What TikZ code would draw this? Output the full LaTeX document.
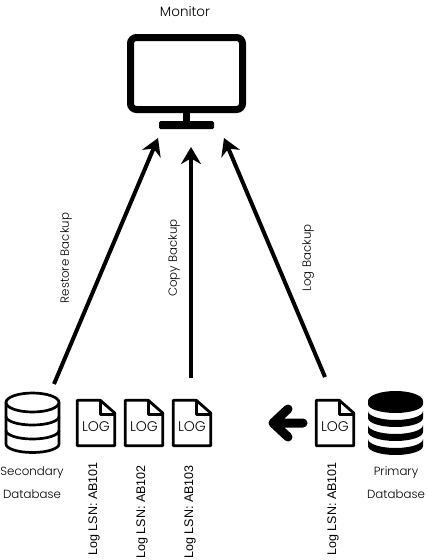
\documentclass[tikz,border=0pt]{standalone}
\usepackage{fontspec}
\setmainfont{Poppins}[UprightFont={* Light}]
\newfontfamily\lsnfont{Liberation Sans}
\usetikzlibrary{arrows.meta}

\begin{document}
\begin{tikzpicture}[
    x=1pt, y=-1pt,
    label/.style={font=\fontsize{11.8}{14}\selectfont, inner sep=0pt},
    vlabel/.style={label, rotate=90},
    lsn/.style={font=\lsnfont\fontsize{12.5}{14}\selectfont, inner sep=0pt, rotate=90},
    logdoc/.style={font=\fontsize{14}{14}\selectfont, inner sep=0pt,
                   minimum width=37pt, minimum height=45pt},
    doc/.style={line width=2.8pt, line join=round},
    arrow/.style={-{Stealth[length=17pt, width=20pt]}, line width=4pt},
    cyl/.style={line width=2.7pt, line join=round},
    disk/.style={fill=black, draw=none}
]
\useasboundingbox (0,0) rectangle (428,560);

% Monitor
\node[label, font=\fontsize{13.5}{14}\selectfont] (monitortext) at (185,11) {Monitor};
\node[draw, line width=7pt, rounded corners=6pt, minimum width=112pt, minimum height=72pt] (monitor) at (186.5,73.5) {};
\node[fill=black, inner sep=0pt, minimum width=7pt, minimum height=9pt] (neck) at (186.5,117) {};
\node[fill=black, inner sep=0pt, minimum width=55pt, minimum height=8pt, rounded corners=1.5pt] (stand) at (186.5,125) {};

% Secondary database
\node[inner sep=0pt, minimum width=55pt, minimum height=60pt] (secondary) at (32.5,423) {};
\draw[cyl] (32.5,402.5) ellipse (26.5pt and 9.5pt);
\draw[cyl] (6,402.5) -- (6,444) arc[start angle=180, end angle=360, x radius=26.5pt, y radius=8.5pt] -- (59,402.5);
\foreach \y in {416.5,430.5}
    \draw[cyl] (6,\y) arc[start angle=180, end angle=360, x radius=26.5pt, y radius=8.5pt];
\node[label] (secondarytext) at (32,473) {Secondary};
\node[label] (secondarytextb) at (32,494) {Database};

% Primary database
\node[inner sep=0pt, minimum width=55pt, minimum height=64pt] (primary) at (395.5,423) {};
\fill[disk] (368,401) arc[start angle=180, end angle=0, x radius=27.5pt, y radius=10pt]
    -- (423,404) arc[start angle=360, end angle=180, x radius=27.5pt, y radius=9pt] -- cycle;
\foreach \y in {411,425,439}
    \fill[disk] (368,\y) arc[start angle=180, end angle=360, x radius=27.5pt, y radius=9pt]
    -- (423,\y+7) arc[start angle=360, end angle=180, x radius=27.5pt, y radius=9pt] -- cycle;
\node[label] (primarytext) at (396,473) {Primary};
\node[label] (primarytextb) at (396,494) {Database};

% Log files
\foreach \name/\x/\lsnx/\lsny/\txt in {loga/96/94/509/AB101, logb/144/142/512/AB102, logc/192/190/512/AB103, logd/335/333/509/AB101} {
    \node[logdoc] (\name) at (\x,423) {\raisebox{-4pt}[9pt][0pt]{LOG}};
    \draw[doc] (\name.north west) -- ++(23,0) -- (\name.north east |- 0,413) -- (\name.south east) -- (\name.south west) -- cycle;
    \draw[doc] (\name.north west) ++(23,0) -- ++(0,14) -- ++(14,0);
    \node[lsn] (\name lsn) at (\lsnx,\lsny) {Log LSN: \txt};
}

% Arrow from primary
\coordinate (logdtail) at (303,423);
\coordinate (logdhead) at (273,423);
\draw[line width=9pt, line cap=round, line join=round] (logdtail) -- (logdhead) ++(15,-14) -- (logdhead) -- ++(15,14);

% Backup arrows
\coordinate (restorefoot) at (54,384);
\coordinate (restorehead) at (158,138);
\coordinate (copyfoot) at (191,378);
\coordinate (copyhead) at (191,147);
\coordinate (logfoot) at (325,377);
\coordinate (loghead) at (224,138);
\draw[arrow] (restorefoot) -- (restorehead);
\draw[arrow] (copyfoot) -- (copyhead);
\draw[arrow] (logfoot) -- (loghead);

\node[vlabel] (restoretext) at (66,258) {Restore Backup};
\node[vlabel] (copytext) at (174,258) {Copy Backup};
\node[vlabel] (logtext) at (308,258) {Log Backup};

\end{tikzpicture}
\end{document}
